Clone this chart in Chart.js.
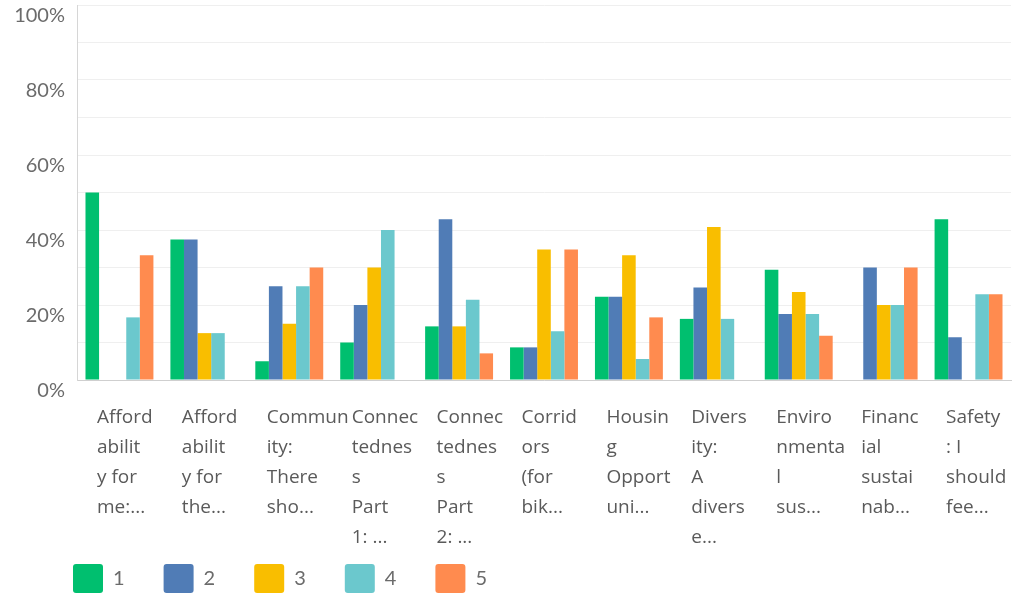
<!DOCTYPE html>
<html>
<head>
<meta charset="utf-8">
<script src="https://cdn.jsdelivr.net/npm/chart.js@4/dist/chart.umd.min.js"></script>
<style>
  html, body { margin: 0; padding: 0; background: #fff; }
</style>
</head>
<body>
<canvas id="chart" width="1018" height="596"></canvas>
<script>
// Kategorien (bereits umgebrochen, wie im Original)
const categories = [
    ["Afford", "abilit", "y for", "me:..."],
    ["Afford", "abilit", "y for", "the..."],
    ["Commun", "ity:", "There", "sho..."],
    ["Connec", "tednes", "s", "Part", "1: ..."],
    ["Connec", "tednes", "s", "Part", "2: ..."],
    ["Corrid", "ors", "(for", "bik..."],
    ["Housin", "g", "Opport", "uni..."],
    ["Divers", "ity:", "A", "divers", "e..."],
    ["Enviro", "nmenta", "l", "sus..."],
    ["Financ", "ial", "sustai", "nab..."],
    ["Safety", ": I", "should", "fee..."]
];

const seriesNames = ["1", "2", "3", "4", "5"];
const series1 = [50, 37.5, 5, 10, 14.3, 8.7, 22.2, 16.3, 29.4, 0, 42.9];
const series2 = [0, 37.5, 25, 20, 42.9, 8.7, 22.2, 24.7, 17.6, 30, 11.4];
const series3 = [0, 12.5, 15, 30, 14.3, 34.8, 33.3, 40.8, 23.5, 20, 0];
const series4 = [16.7, 12.5, 25, 40, 21.4, 13.0, 5.6, 16.3, 17.6, 20, 22.9];
const series5 = [33.3, 0, 30, 0, 7.1, 34.8, 16.7, 0, 11.8, 30, 22.9];
const yTicks = [0, 20, 40, 60, 80, 100];

const colors = ["#00bf6f", "#507cb6", "#f9be00", "#6bc8cd", "#ff8b4f"];
const allSeries = [series1, series2, series3, series4, series5];

const datasets = allSeries.map((data, i) => ({
    label: seriesNames[i],
    data: data,
    backgroundColor: colors[i],
    borderWidth: 0,
    categoryPercentage: 0.8,
    barPercentage: 1.0
}));

// Legende etwas nach rechts/oben schieben (Abstand zwischen Einträgen bleibt)
const legendShift = {
    id: "legendShift",
    afterLayout(chart) {
        const lg = chart.legend;
        lg.left = 34;
        lg.top = 525;
        lg.height = 78;
        lg.bottom = lg.top + lg.height;
    }
};

new Chart(document.getElementById("chart"), {
    type: "bar",
    data: { labels: categories, datasets: datasets },
    plugins: [legendShift],
    options: {
        responsive: false,
        animation: false,
        layout: { padding: { left: 0, right: 7, top: 5, bottom: 0 } },
        plugins: {
            tooltip: { enabled: false },
            legend: {
                position: "bottom",
                align: "start",
                maxHeight: 40,
                labels: {
                    boxWidth: 30,
                    boxHeight: 29,
                    padding: 39,
                    useBorderRadius: true,
                    borderRadius: 3,
                    color: "#6b6b6b",
                    font: { family: "Lato", size: 20 }
                }
            }
        },
        scales: {
            x: {
                grid: { display: false, drawTicks: false },
                border: { display: true, color: "#cfcfcf", width: 1 },
                ticks: {
                    autoSkip: false,
                    maxRotation: 0,
                    minRotation: 0,
                    align: "start",
                    labelOffset: -22.5,
                    padding: 23,
                    color: "#5a5a5a",
                    font: { family: "Open Sans", size: 19, lineHeight: "30px" }
                },
                afterFit: (scale) => {
                    scale.height = 176;
                    scale.paddingLeft = 0;
                    scale.paddingRight = 0;
                }
            },
            y: {
                min: 0,
                max: 100,
                grid: { color: "#efefef", drawTicks: false },
                border: { display: true, color: "#d6d6d6", width: 1 },
                ticks: {
                    stepSize: 10,
                    padding: 12,
                    labelOffset: 11,
                    color: "#6b6b6b",
                    font: { family: "Lato", size: 20 },
                    callback: (v) => yTicks.includes(v) ? v + "%" : ""
                },
                afterFit: (scale) => {
                    scale.width = 77;
                    scale.paddingTop = 0;
                    scale.paddingBottom = 0;
                }
            }
        }
    }
});
</script>
</body>
</html>
